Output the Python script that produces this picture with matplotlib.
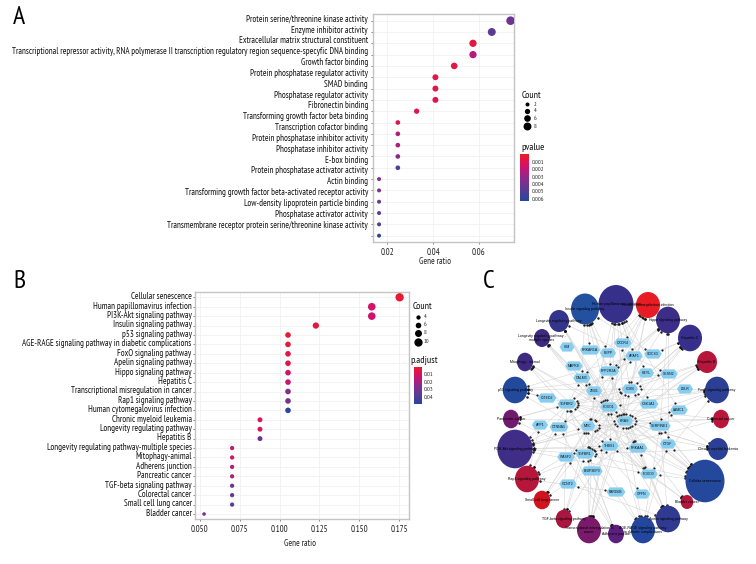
"""
    Dot plots of GO / KEGG enrichment plus the pathway-gene network.
"""

import numpy as np
import matplotlib
matplotlib.use("Agg")
import matplotlib.font_manager as fm
import matplotlib.pyplot as plt
from matplotlib.colors import LinearSegmentedColormap
from matplotlib.patches import Ellipse, Polygon

# narrow font if there is one, otherwise a plain one set small enough to still fit
try:
    fm.findfont("PT Sans Narrow", fallback_to_default=False)
    plt.rcParams['font.family'] = ['PT Sans Narrow', 'DejaVu Sans']
    fs = 6.36
except ValueError:
    plt.rcParams['font.family'] = ['Liberation Sans', 'DejaVu Sans']
    fs = 4.8

W, H = 756, 564

# panel A
go_terms = ["Protein serine/threonine kinase activity", "Enzyme inhibitor activity",
            "Extracellular matrix structural constituent",
            "Transcriptional repressor activity, RNA polymerase II transcription regulatory region sequence-specyfic DNA binding",
            "Growth factor binding", "Protein phosphatase regulator activity", "SMAD binding",
            "Phosphatase regulator activity", "Fibronectin binding", "Transforming growth factor beta binding",
            "Transcription cofactor binding", "Protein phosphatase inhibitor activity",
            "Phosphatase inhibitor activity", "E-box binding", "Protein phosphatase activator activity",
            "Actin binding", "Transforming growth factor beta-activated receptor activity",
            "Low-density lipoprotein particle binding", "Phosphatase activator activity",
            "Transmembrane receptor protein serine/threonine kinase activity"]
go_ratio = [0.0738, 0.0656, 0.0574, 0.0574, 0.0492, 0.041, 0.041, 0.041, 0.0328, 0.0246,
            0.0246, 0.0246, 0.0246, 0.0246, 0.0164, 0.0164, 0.0164, 0.0164, 0.0164, 0.0164]
go_count = [9, 8, 7, 7, 6, 5, 5, 5, 4, 3, 3, 3, 3, 3, 2, 2, 2, 2, 2, 2]
go_pvalue = [0.0042, 0.0047, 0.0006, 0.0022, 0.0008, 0.0008, 0.0009, 0.0010, 0.0009, 0.0010,
             0.0022, 0.0024, 0.0033, 0.0050, 0.0031, 0.0036, 0.0042, 0.0045, 0.0050, 0.0060]

# panel B
kegg_terms = ["Cellular senescence", "Human papillomavirus infection", "PI3K-Akt signaling pathway",
              "Insulin signaling pathway", "p53 signaling pathway",
              "AGE-RAGE signaling pathway in diabetic complications", "FoxO signaling pathway",
              "Apelin signaling pathway", "Hippo signaling pathway", "Hepatitis C",
              "Transcriptional misregulation in cancer", "Rap1 signaling pathway",
              "Human cytomegalovirus infection", "Chronic myeloid leukemia", "Longevity regulating pathway",
              "Hepatitis B", "Longevity regulating pathway-multiple species", "Mitophagy-animal",
              "Adherens junction", "Pancreatic cancer", "TGF-beta signaling pathway", "Colorectal cancer",
              "Small cell lung cancer", "Bladder cancer"]
kegg_ratio = [0.1754, 0.1579, 0.1579, 0.1228, 0.1053, 0.1053, 0.1053, 0.1053, 0.1053, 0.1053, 0.1053, 0.1053,
              0.1053, 0.0877, 0.0877, 0.0877, 0.0702, 0.0702, 0.0702, 0.0702, 0.0702, 0.0702, 0.0702, 0.0526]
kegg_count = [10, 9, 9, 7, 6, 6, 6, 6, 6, 6, 6, 6, 6, 5, 5, 5, 4, 4, 4, 4, 4, 4, 4, 3]
kegg_padjust = [0.003, 0.012, 0.013, 0.005, 0.003, 0.004, 0.006, 0.008, 0.012, 0.015, 0.027, 0.032,
                0.048, 0.009, 0.010, 0.033, 0.016, 0.012, 0.018, 0.019, 0.032, 0.034, 0.038, 0.030]

# panel C, pixel layout of the network
path_names = ["Human papillomavirus infection", "Human cytomegalovirus infection", "Insulin signaling pathway",
              "Longevity regulating pathway", "Longevity regulating pathway -\nmultiple species",
              "Mitophagy - animal", "p53 signaling pathway", "Pancreatic cancer", "PI3K-Akt signaling pathway",
              "Rap1 signaling pathway", "Small cell lung cancer", "TGF-beta signaling pathway",
              "Transcriptional misregulation in\ncancer", "Adherens junction",
              "AGE-RAGE signaling pathway\nin diabetic complications", "Apelin signaling pathway",
              "Bladder cancer", "Cellular senescence", "Chronic myeloid leukemia", "Colorectal cancer",
              "FoxO signaling pathway", "Hepatitis B", "Hepatitis C", "Hippo signaling pathway"]
path_x = [616, 648, 585, 559, 542, 525, 515, 511, 515, 527, 542, 564, 589, 616, 643, 668, 687, 705, 718, 721, 717, 707, 690, 668]
path_y = [304, 305, 309, 321, 338, 362, 390, 419, 449, 479, 500, 519, 530, 534, 530, 519, 502, 481, 449, 419, 390, 362, 338, 320]
path_rx = [17.5, 12, 14, 10, 8, 8, 12.3, 8, 17.7, 12, 8.3, 8.3, 12, 8, 12, 12.3, 6.3, 19.5, 10, 8, 12, 10, 12, 12]
path_ry = [19, 13, 15.5, 11, 9, 9.3, 13.3, 9.3, 19.3, 13.3, 9.3, 9.3, 13.3, 9.3, 13.3, 13.3, 7, 21.3, 11, 9.3, 13.3, 11, 13.3, 13.3]
path_colors = ["#37308b", "#e81c24", "#23509f", "#33358c", "#3e2a80", "#3f2a82", "#23499c", "#701a6e", "#3f2d87",
               "#b5173a", "#d0141f", "#aa1640", "#7a1a6a", "#5c1f7d", "#23479d", "#2f3a90", "#b5163c", "#23489c",
               "#2a4096", "#b8163a", "#2b3f94", "#b5163c", "#372f8c", "#3b2d88"]

gene_names = ["ISM", "PRKAR1A", "PEPP", "CXCR4", "SOCS3", "APAF1", "MAPK8", "PPP2R2A", "CALM3", "HEYL", "SESN2",
              "CDK6", "LDLR", "ZEB1", "CITED2", "TGFBR2", "FOXO1", "CSK1A1", "LAMC1", "KRAS", "MYC", "AFP1",
              "CTNNA1", "SERPINE1", "CTGF", "THBS1", "PRKAA1", "TGFBR1", "WASF2", "BNIP3EP3", "FOXO3", "GCNT2",
              "PARD6B", "GPFN"]
gene_x = [567, 590, 608, 623, 653, 634, 574, 609, 582, 646, 669, 630, 685, 594, 547, 567, 609, 649, 679, 625, 588,
          540, 559, 660, 668, 610, 638, 585, 566, 592, 649, 568, 616, 642]
gene_y = [347, 350, 353, 343, 354, 356, 366, 371, 378, 373, 374, 389, 389, 391, 398, 404, 407, 404, 410, 421, 426,
          425, 427, 426, 444, 446, 448, 454, 457, 471, 474, 484, 492, 494]

# which genes sit in which pathway, same order as path_names
path_genes = [
    ["CDK6", "KRAS", "MYC", "THBS1", "LAMC1", "PPP2R2A", "CSK1A1", "HEYL", "APAF1"],
    ["CDK6", "KRAS", "MYC", "CXCR4", "TGFBR1", "CALM3"],
    ["KRAS", "FOXO1", "PRKAR1A", "PRKAA1", "SOCS3", "PEPP", "CALM3"],
    ["KRAS", "FOXO1", "FOXO3", "PRKAA1", "SESN2"],
    ["KRAS", "FOXO1", "FOXO3", "PRKAA1"],
    ["FOXO1", "FOXO3", "KRAS", "GPFN"],
    ["CDK6", "SESN2", "SERPINE1", "THBS1", "APAF1", "CITED2"],
    ["CDK6", "KRAS", "TGFBR1", "TGFBR2"],
    ["CDK6", "FOXO3", "KRAS", "MYC", "THBS1", "LAMC1", "PRKAA1", "PPP2R2A", "TGFBR1"],
    ["KRAS", "THBS1", "CALM3", "CTNNA1", "AFP1", "PARD6B"],
    ["CDK6", "MYC", "LAMC1", "APAF1"],
    ["MYC", "THBS1", "TGFBR1", "TGFBR2"],
    ["CDK6", "MYC", "KRAS", "FOXO1", "ZEB1", "CXCR4"],
    ["TGFBR1", "TGFBR2", "CTNNA1", "WASF2"],
    ["KRAS", "FOXO1", "SERPINE1", "CTGF", "TGFBR1", "TGFBR2"],
    ["KRAS", "CALM3", "SERPINE1", "PRKAA1", "GCNT2", "PPP2R2A"],
    ["KRAS", "MYC", "THBS1"],
    ["CDK6", "FOXO1", "FOXO3", "KRAS", "MYC", "SERPINE1", "TGFBR1", "TGFBR2", "CALM3", "CTGF"],
    ["CDK6", "KRAS", "MYC", "TGFBR1", "TGFBR2"],
    ["KRAS", "MYC", "TGFBR1", "TGFBR2"],
    ["CDK6", "FOXO1", "FOXO3", "KRAS", "TGFBR1", "TGFBR2"],
    ["CDK6", "KRAS", "MYC", "TGFBR1", "TGFBR2"],
    ["CDK6", "KRAS", "MYC", "SOCS3", "TGFBR1", "PPP2R2A"],
    ["CTGF", "TGFBR1", "TGFBR2", "CTNNA1", "SERPINE1", "PPP2R2A"],
]

cmap = LinearSegmentedColormap.from_list("red_blue", ["#ed1c24", "#d4126a", "#8e2a8b", "#5e3a93", "#27479d"])


def dot_size(count, c_low, d_low, c_high, d_high):
    # diameter in pixels goes up with the count, scatter wants points squared
    d = d_low + (count - c_low) * (d_high - d_low) / (c_high - c_low)
    return (d * 0.72) ** 2


def dot_panel(box, xlim, xticks, xlabels, ratio, count, value, vmax, size_args, ylim):
    left, top, right, bottom = box
    ax = fig.add_axes([left / W, 1 - bottom / H, (right - left) / W, (bottom - top) / H])
    rows = np.arange(len(ratio))
    ax.scatter(ratio, rows, s=dot_size(np.array(count), *size_args), c=value, cmap=cmap, vmin=0, vmax=vmax,
               linewidths=0, zorder=3)
    ax.set_xlim(xlim)
    ax.set_ylim(ylim)
    ax.set_xticks(xticks)
    ax.set_xticklabels(xlabels, fontsize=fs, color="#222222")
    ax.set_yticks(rows)
    ax.set_yticklabels([])
    ax.tick_params(length=1.5, width=0.5, color="#555555", pad=3)
    ax.grid(color="#f1f1f1", linewidth=0.6)
    ax.set_axisbelow(True)
    for spine in ax.spines.values():
        spine.set_color("#c4c4c4")
        spine.set_linewidth(1.0)
    return ax


def color_legend(box, vmax, ticks, labels):
    left, top, right, bottom = box
    cax = fig.add_axes([left / W, 1 - bottom / H, (right - left) / W, (bottom - top) / H])
    grad = np.linspace(0, vmax, 100).reshape(-1, 1)
    cax.imshow(grad, aspect="auto", cmap=cmap, vmin=0, vmax=vmax, extent=[0, 1, vmax, 0])
    cax.set_xticks([])
    cax.yaxis.tick_right()
    cax.set_yticks(ticks)
    cax.set_yticklabels(labels, fontsize=fs * 0.7, color="#222222")
    cax.tick_params(axis="y", length=0, pad=1.5)
    for spine in cax.spines.values():
        spine.set_visible(False)


fig = plt.figure(figsize=(W / 100, H / 100), dpi=100)
canvas = fig.add_axes([0, 0, 1, 1], zorder=5)
canvas.set_xlim(0, W)
canvas.set_ylim(H, 0)
canvas.axis("off")
canvas.patch.set_alpha(0)

# A
size_a = (2, 4.0, 9, 8.6)
dot_panel((373, 14, 514, 242), (0.01376, 0.0753), [0.02, 0.04, 0.06], ["0.02", "0.04", "0.06"],
          go_ratio, go_count, go_pvalue, 0.00624, size_a, (19.56, -0.59))
for i, term in enumerate(go_terms):
    # the row labels are packed a bit tighter than the rows themselves
    canvas.text(368, 19.3 + i * 10.83, term, ha="right", va="center", fontsize=fs, color="#111111")
canvas.text(435, 262, "Gene ratio", ha="center", va="center", fontsize=fs, color="#222222")
canvas.text(13, 17, "A", ha="left", va="center", fontsize=fs * 2.9, color="black")
canvas.text(521.5, 95, "Count", ha="left", va="center", fontsize=fs * 1.1, color="#111111")
for c, y in zip([2, 4, 6, 8], [104.3, 111, 118, 126]):
    canvas.scatter(527.3, y, s=dot_size(c, *size_a), color="black", linewidths=0)
    canvas.text(534, y, str(c), ha="left", va="center", fontsize=fs * 0.7, color="#222222")
canvas.text(521, 147.5, "pvalue", ha="left", va="center", fontsize=fs * 1.15, color="#111111")
color_legend((520.3, 154.3, 529.3, 200.7), 0.00624, [0.001, 0.002, 0.003, 0.004, 0.005, 0.006],
             ["0.001", "0.002", "0.003", "0.004", "0.005", "0.006"])

# B
size_b = (3, 3.6, 10, 8.3)
dot_panel((195, 291.7, 408.7, 519), (0.0469, 0.1811), [0.05, 0.075, 0.1, 0.125, 0.15, 0.175],
          ["0.050", "0.075", "0.100", "0.125", "0.150", "0.175"],
          kegg_ratio, kegg_count, kegg_padjust, 0.0493, size_b, (23.53, -0.594))
for i, term in enumerate(kegg_terms):
    canvas.text(191.7, 296.7 + i * 9.42, term, ha="right", va="center", fontsize=fs, color="#111111")
canvas.text(300, 544, "Gene ratio", ha="center", va="center", fontsize=fs, color="#222222")
canvas.text(13, 281, "B", ha="left", va="center", fontsize=fs * 2.9, color="black")
canvas.text(412.7, 306.5, "Count", ha="left", va="center", fontsize=fs * 1.1, color="#111111")
for c, y in zip([4, 6, 8, 10], [317, 325, 333, 341.7]):
    canvas.scatter(418, y, s=dot_size(c, *size_b), color="black", linewidths=0)
    canvas.text(424, y, str(c), ha="left", va="center", fontsize=fs * 0.7, color="#222222")
canvas.text(410, 360, "p.adjust", ha="left", va="center", fontsize=fs * 1.15, color="#111111")
color_legend((414, 366.7, 421.7, 404), 0.0493, [0.01, 0.02, 0.03, 0.04], ["0.01", "0.02", "0.03", "0.04"])

# C
canvas.text(483, 281, "C", ha="left", va="center", fontsize=fs * 2.9, color="black")
gene_index = {name: i for i, name in enumerate(gene_names)}


def rim_point(cx, cy, rx, ry, dx, dy):
    # where a line going out from the centre leaves the ellipse
    t = 1 / np.sqrt((dx / rx) ** 2 + (dy / ry) ** 2)
    return cx + dx * t, cy + dy * t


for p, genes in enumerate(path_genes):
    for name in genes:
        g = gene_index[name]
        x0, y0, x1, y1 = path_x[p], path_y[p], gene_x[g], gene_y[g]
        canvas.plot([x0, x1], [y0, y1], color="#d6d6d6", linewidth=0.4, zorder=1)
        dx, dy = x1 - x0, y1 - y0
        angle = np.degrees(np.arctan2(-dy, dx)) - 90
        ax_, ay_ = rim_point(x0, y0, path_rx[p] + 1, path_ry[p] + 1, dx, dy)
        bx_, by_ = rim_point(x1, y1, 11, 7, -dx, -dy)
        canvas.plot(ax_, ay_, marker=(3, 0, angle + 180), markersize=1.2, color="#111111", linewidth=0, zorder=2)
        canvas.plot(bx_, by_, marker=(3, 0, angle), markersize=1.0, color="#222222", linewidth=0, zorder=2)

for p, name in enumerate(path_names):
    canvas.add_patch(Ellipse((path_x[p], path_y[p]), 2 * path_rx[p], 2 * path_ry[p], facecolor=path_colors[p],
                             edgecolor="none", zorder=3))
    canvas.text(path_x[p], path_y[p], name, ha="center", va="center", fontsize=2.5, color="black", zorder=6,
                family=["Liberation Sans", "DejaVu Sans"], linespacing=1.1)

for g, name in enumerate(gene_names):
    half = 5.5 + 0.65 * len(name)
    x, y = gene_x[g], gene_y[g]
    canvas.add_patch(Polygon([(x - half, y), (x - half + 3, y - 4.6), (x + half - 3, y - 4.6), (x + half, y),
                              (x + half - 3, y + 4.6), (x - half + 3, y + 4.6)], closed=True,
                             facecolor="#86cdf0", edgecolor="none", zorder=4))
    canvas.text(x, y, name, ha="center", va="center", fontsize=2.5, color="#111111", zorder=6,
                family=["Liberation Sans", "DejaVu Sans"])

canvas.set_xlim(0, W)
canvas.set_ylim(H, 0)
fig.savefig("out.png", dpi=100)
